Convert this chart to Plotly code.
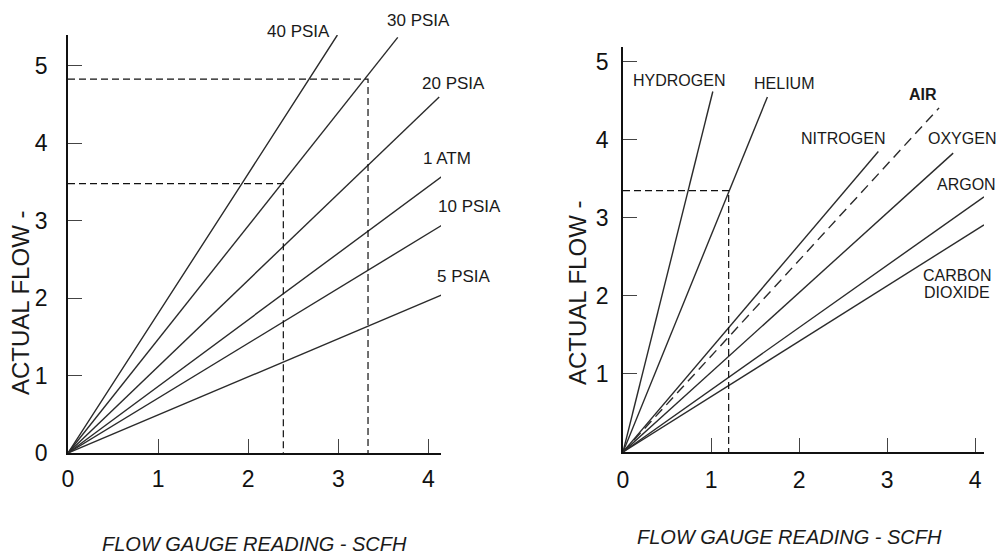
import plotly.graph_objects as go

# ---------------- data: left chart (pressure correction) ----------------
psia_names = ["40 PSIA", "30 PSIA", "20 PSIA", "1 ATM", "10 PSIA", "5 PSIA"]
psia_x = [
    [0, 1.93, 2.99],
    [0, 3.66],
    [0, 4.12],
    [0, 4.23],
    [0, 4.33],
    [0, 4.33],
]
psia_y = [
    [0, 3.48, 5.40],
    [0, 5.37],
    [0, 4.60],
    [0, 3.64],
    [0, 3.07],
    [0, 2.13],
]
left_ref_x = [2.39, 3.33]
left_ref_y = [3.48, 4.83]
left_xticks = [0, 1, 2, 3, 4]
left_yticks = [0, 1, 2, 3, 4, 5]

# ---------------- data: right chart (gas correction) ----------------
gas_names = ["HYDROGEN", "HELIUM", "NITROGEN", "AIR", "OXYGEN", "ARGON", "CARBON DIOXIDE"]
gas_x = [
    [0, 1.02],
    [0, 1.64],
    [0, 2.90],
    [0, 3.59],
    [0, 3.75],
    [0, 4.10],
    [0, 4.10],
]
gas_y = [
    [0, 4.62],
    [0, 4.55],
    [0, 3.85],
    [0, 4.41],
    [0, 3.83],
    [0, 3.27],
    [0, 2.91],
]
right_ref_x = [1.20]
right_ref_y = [3.35]
right_xticks = [0, 1, 2, 3, 4]
right_yticks = [1, 2, 3, 4, 5]

W, H = 998, 555
LINE = "#2b2b2b"
FONT = "Liberation Sans, Arial, sans-serif"

fig = go.Figure()

for name, xs, ys in zip(psia_names, psia_x, psia_y):
    fig.add_trace(go.Scatter(x=xs, y=ys, mode="lines", name=name,
                             line=dict(color=LINE, width=1.4, shape="spline", smoothing=0.6),
                             xaxis="x", yaxis="y", showlegend=False, hoverinfo="skip",
                             cliponaxis=False))

for rx, ry in zip(left_ref_x, left_ref_y):
    fig.add_trace(go.Scatter(x=[0, rx, rx], y=[ry, ry, 0], mode="lines",
                             line=dict(color="#111", width=1.2, dash="7px,4px"),
                             xaxis="x", yaxis="y", showlegend=False, hoverinfo="skip"))

for name, xs, ys in zip(gas_names, gas_x, gas_y):
    dash = "10px,6px" if name == "AIR" else "solid"
    fig.add_trace(go.Scatter(x=xs, y=ys, mode="lines", name=name,
                             line=dict(color=LINE, width=1.4, dash=dash),
                             xaxis="x2", yaxis="y2", showlegend=False, hoverinfo="skip",
                             cliponaxis=False))

for rx, ry in zip(right_ref_x, right_ref_y):
    fig.add_trace(go.Scatter(x=[0, rx, rx], y=[ry, ry, 0], mode="lines",
                             line=dict(color="#111", width=1.2, dash="7px,4px"),
                             xaxis="x2", yaxis="y2", showlegend=False, hoverinfo="skip"))

axis_common = dict(showline=True, linecolor="#111", linewidth=1.5, ticks="inside",
                   ticklen=14, tickwidth=1.3, tickcolor="#444", showgrid=False,
                   zeroline=False, tickfont=dict(family=FONT, size=23, color="#111"),
                   fixedrange=True, automargin=False)

def px_dom(a, b, total):
    return [a / total, b / total]

fig.update_layout(
    width=W, height=H, margin=dict(l=0, r=0, t=0, b=0, autoexpand=False),
    paper_bgcolor="white", plot_bgcolor="white",
    xaxis=dict(domain=px_dom(68, 441, W), range=[0, 4.14], tickvals=left_xticks,
               anchor="y", ticklabelstandoff=5, **axis_common),
    yaxis=dict(domain=[(H - 453) / H, (H - 35) / H], range=[0, 5.40], tickvals=left_yticks,
               anchor="x", ticklabelstandoff=14, **axis_common),
    xaxis2=dict(domain=px_dom(623, 984, W), range=[0, 4.10], tickvals=right_xticks,
                anchor="y2", ticklabelstandoff=7, **axis_common),
    yaxis2=dict(domain=[(H - 452) / H, (H - 47) / H], range=[0, 5.19], tickvals=right_yticks,
                anchor="x2", ticklabelstandoff=8, **axis_common),
)

ann = []
def label(text, px, py, size, bold=False, italic=False, angle=0):
    t = text
    if bold:
        t = f"<b>{t}</b>"
    if italic:
        t = f"<i>{t}</i>"
    ann.append(dict(text=t, x=px / W, y=(H - py) / H, xref="paper", yref="paper",
                    showarrow=False, xanchor="center", yanchor="middle", textangle=angle,
                    font=dict(family=FONT, size=size, color="#1a1a1a")))

# left line labels (pixel centres)
left_label_px = [(298, 32), (418, 21), (453, 83), (447, 159), (469, 206), (464, 276)]
for name, (lx, ly) in zip(psia_names, left_label_px):
    label(name, lx, ly, 17)

# right line labels (pixel centres)
right_label_px = {"HYDROGEN": (679, 81), "HELIUM": (784, 83), "NITROGEN": (843, 138),
                  "AIR": (923, 94), "OXYGEN": (962, 138), "ARGON": (966, 184)}
for name in gas_names[:-1]:
    lx, ly = right_label_px[name]
    label(name, lx, ly, 16, bold=(name == "AIR"))
label("CARBON", 957, 275, 16)
label("DIOXIDE", 957, 293, 16)

# axis titles
for cx, cy in [(255, 544), (789, 537)]:
    label("FLOW GAUGE READING - SCFH", cx, cy, 20, italic=True)
for cx, cy in [(20, 303), (578, 293)]:
    label("ACTUAL FLOW -", cx, cy, 24, angle=-90)

fig.update_layout(annotations=ann)
fig.write_html("out.html", config={"displayModeBar": False},
               post_script="document.body.style.margin='0';document.body.style.overflow='hidden';")
